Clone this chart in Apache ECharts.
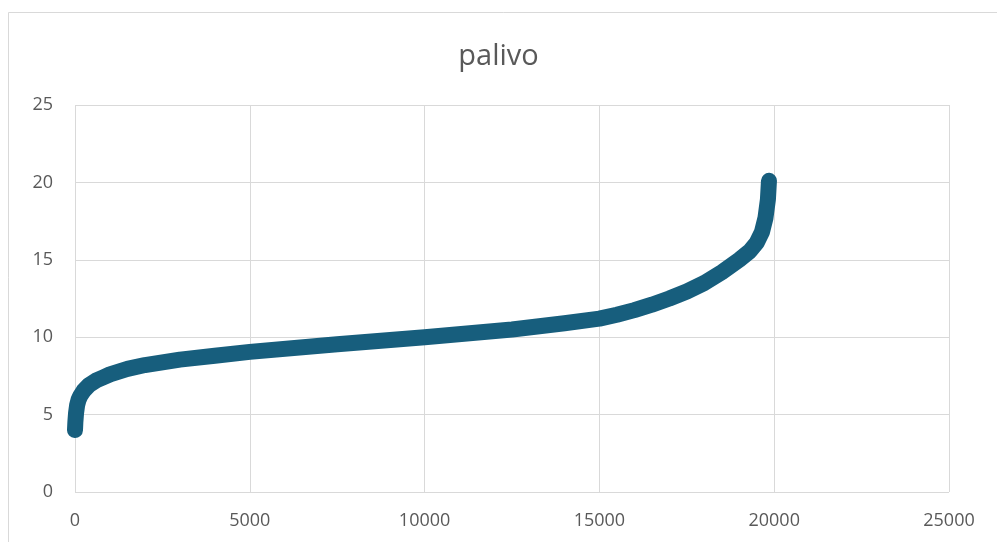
<!DOCTYPE html>
<html>
<head>
<meta charset="utf-8">
<script src="https://cdn.jsdelivr.net/npm/echarts@6/dist/echarts.min.js"></script>
<style>
  html, body { margin: 0; padding: 0; background: #fff; }
  #chart { width: 997px; height: 542px; }
</style>
</head>
<body>
<div id="chart"></div>
<script>
// points (index, palivo)
const xVals = [0, 10, 30, 60, 100, 150, 250, 400, 600, 800, 1000, 1500, 2000, 3000, 4000, 5000,
  7500, 10000, 12500, 14000, 15000, 15500, 16000, 16500, 17000, 17500, 18000, 18500, 19000,
  19300, 19500, 19650, 19750, 19820, 19850];
const yVals = [4.0, 4.5, 5.1, 5.6, 5.95, 6.2, 6.55, 6.9, 7.2, 7.4, 7.6, 7.95, 8.2, 8.55, 8.8, 9.05,
  9.55, 10.0, 10.5, 10.9, 11.2, 11.45, 11.75, 12.1, 12.5, 12.95, 13.5, 14.2, 15.0,
  15.55, 16.1, 16.8, 17.7, 18.9, 20.1];
const xTicks = [0, 5000, 10000, 15000, 20000, 25000];
const yTicks = [0, 5, 10, 15, 20, 25];

const textColor = '#595959';
const gridColor = '#d9d9d9';
const lineColor = '#175e7d';
const font = 'Open Sans';

const points = xVals.map((x, i) => [x, yVals[i]]);

const chart = echarts.init(document.getElementById('chart'));
chart.setOption({
  animation: false,
  backgroundColor: '#fff',
  title: {
    text: 'palivo',
    left: 'center',
    top: 37,
    textStyle: { fontFamily: font, fontSize: 29, fontWeight: 'normal', color: textColor }
  },
  graphic: [{
    type: 'rect',
    shape: { x: 8.5, y: 12.5, width: 1100, height: 700 },
    style: { fill: 'none', stroke: gridColor, lineWidth: 1 },
    silent: true
  }],
  grid: { left: 75, right: 48, top: 105, bottom: 50 },
  xAxis: {
    type: 'value',
    min: xTicks[0],
    max: xTicks[xTicks.length - 1],
    interval: xTicks[1] - xTicks[0],
    axisLine: { show: false },
    axisTick: { show: false },
    splitLine: { show: true, lineStyle: { color: gridColor, width: 1 } },
    axisLabel: { color: textColor, fontFamily: font, fontSize: 18, margin: 20, formatter: v => String(v) }
  },
  yAxis: {
    type: 'value',
    min: yTicks[0],
    max: yTicks[yTicks.length - 1],
    interval: yTicks[1] - yTicks[0],
    axisLine: { show: false },
    axisTick: { show: false },
    splitLine: { show: true, lineStyle: { color: gridColor, width: 1 } },
    axisLabel: { color: textColor, fontFamily: font, fontSize: 18, margin: 22 }
  },
  series: [{
    name: 'palivo',
    type: 'line',
    data: points,
    smooth: false,
    symbol: 'circle',
    symbolSize: 16,
    showSymbol: false,
    lineStyle: { color: lineColor, width: 16, cap: 'round', join: 'round', opacity: 1 },
    itemStyle: { color: lineColor }
  }]
});
</script>
</body>
</html>
